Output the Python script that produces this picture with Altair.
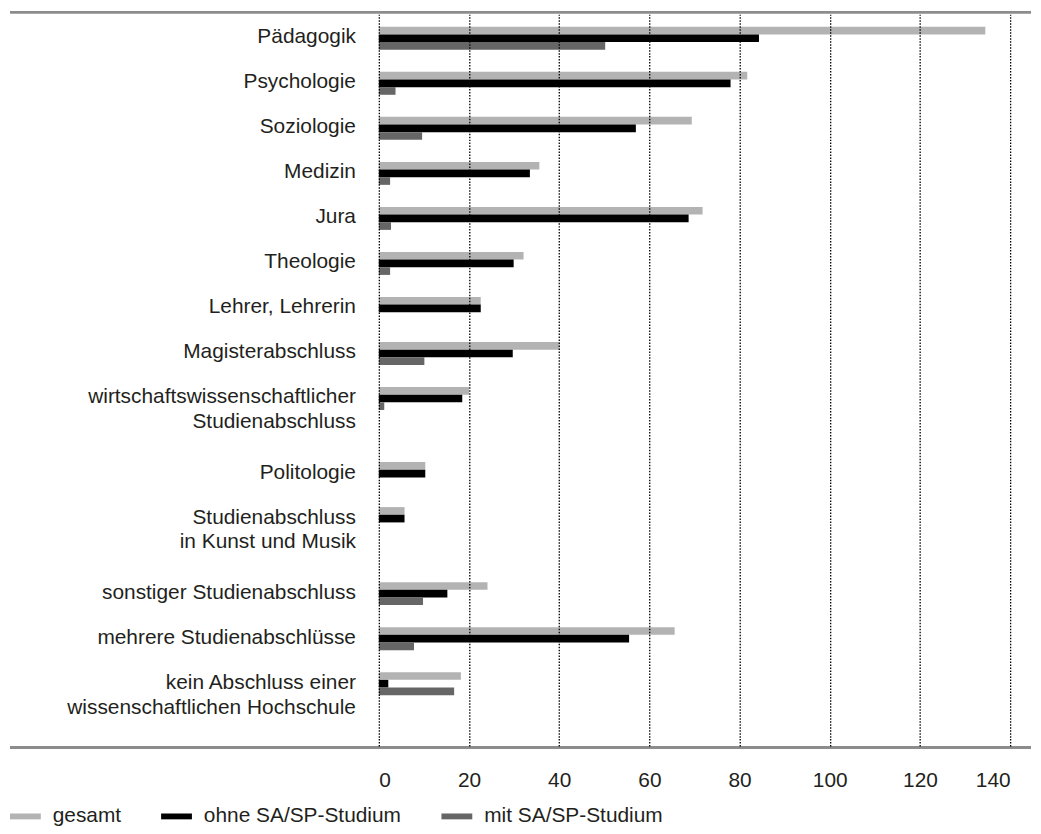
import altair as alt
import pandas as pd

# ---- data ----
categories = [
    "Pädagogik",
    "Psychologie",
    "Soziologie",
    "Medizin",
    "Jura",
    "Theologie",
    "Lehrer, Lehrerin",
    "Magisterabschluss",
    "wirtschaftswissenschaftlicher\nStudienabschluss",
    "Politologie",
    "Studienabschluss\nin Kunst und Musik",
    "sonstiger Studienabschluss",
    "mehrere Studienabschlüsse",
    "kein Abschluss einer\nwissenschaftlichen Hochschule",
]
series = ["gesamt", "ohne SA/SP-Studium", "mit SA/SP-Studium"]
gesamt = [134.5, 81.7, 69.4, 35.6, 71.8, 32.1, 22.6, 40.1, 20.0, 10.3, 5.7, 24.1, 65.6, 18.2]
ohne = [84.3, 78.0, 57.0, 33.5, 68.7, 29.9, 22.6, 29.7, 18.5, 10.3, 5.7, 15.2, 55.5, 2.1]
mit = [50.2, 3.7, 9.6, 2.5, 2.7, 2.5, 0.0, 10.1, 1.2, 0.0, 0.0, 9.8, 7.8, 16.7]
x_ticks = [0, 20, 40, 60, 80, 100, 120, 140]
colors = ["#b3b3b3", "#000000", "#666666"]

# ---- layout of category rows (slot units; extra label lines take extra room) ----
TOP = 0.276
EXTRA_PER_LINE = 2 / 3
BAR = 0.17
pos = []
cur = TOP
for c in categories:
    pos.append(cur)
    cur += 1 + EXTRA_PER_LINE * (c.count("\n"))
Y_MAX = 16.25

rows = []
for ci, c in enumerate(categories):
    for si, (s, vals) in enumerate(zip(series, [gesamt, ohne, mit])):
        v = vals[ci]
        if v <= 0:
            continue
        rows.append({
            "category": c,
            "series": s,
            "value": v,
            "y0": pos[ci] + si * BAR,
            "y1": pos[ci] + (si + 1) * BAR,
        })
bars_df = pd.DataFrame(rows)
labels_df = pd.DataFrame({"label": categories, "ly": [p + 1.5 * BAR for p in pos]})

FONT = "Liberation Sans"
TXT = "#231f20"
FS = 21
W, H = 635, 736

yscale = alt.Scale(domain=[0, Y_MAX], reverse=True, nice=False, zero=False)
xscale = alt.Scale(domain=[0, 140], nice=False)

bars = alt.Chart(bars_df).mark_bar().encode(
    x=alt.X("value:Q", scale=xscale,
            axis=alt.Axis(values=x_ticks, title=None, grid=True, gridColor="#000000",
                          gridDash=[1.5, 1.5], gridWidth=1.3, domain=False, ticks=False,
                          tickSize=0, labelPadding=24, labelFontSize=FS, labelFont=FONT,
                          labelColor=TXT, zindex=1)),
    x2=alt.datum(0),
    y=alt.Y("y0:Q", scale=yscale, axis=None),
    y2="y1:Q",
    color=alt.Color("series:N", sort=series,
                    scale=alt.Scale(domain=series, range=colors),
                    legend=alt.Legend(title=None, orient="none", direction="horizontal",
                                      legendX=-371, legendY=791, padding=0,
                                      symbolType="M-1,-0.19H1V0.19H-1Z", symbolSize=961,
                                      symbolStrokeWidth=0, labelFontSize=FS, labelFont=FONT,
                                      labelColor=TXT, labelOffset=12, columnPadding=40,
                                      labelLimit=400)),
)

labels = alt.Chart(labels_df).mark_text(
    align="right", baseline="alphabetic", dy=5, fontSize=FS, font=FONT, color=TXT,
    lineBreak="\n", lineHeight=25,
).encode(
    x=alt.value(-23),
    y=alt.Y("ly:Q", scale=yscale, axis=None),
    text="label:N",
)

one = pd.DataFrame({"a": [0]})
top_rule = alt.Chart(one).mark_rule(color="#8c8c8c", strokeWidth=3).encode(
    x=alt.value(-371), x2=alt.value(656), y=alt.value(-2)
)
bottom_rule = alt.Chart(one).mark_rule(color="#8c8c8c", strokeWidth=3).encode(
    x=alt.value(-371), x2=alt.value(656), y=alt.value(H + 1.5)
)

chart = alt.layer(bars, labels, top_rule, bottom_rule).properties(
    width=W, height=H, padding=0
).configure_view(stroke=None)

chart.save("out.html", embed_options={"renderer": "svg", "actions": False})
